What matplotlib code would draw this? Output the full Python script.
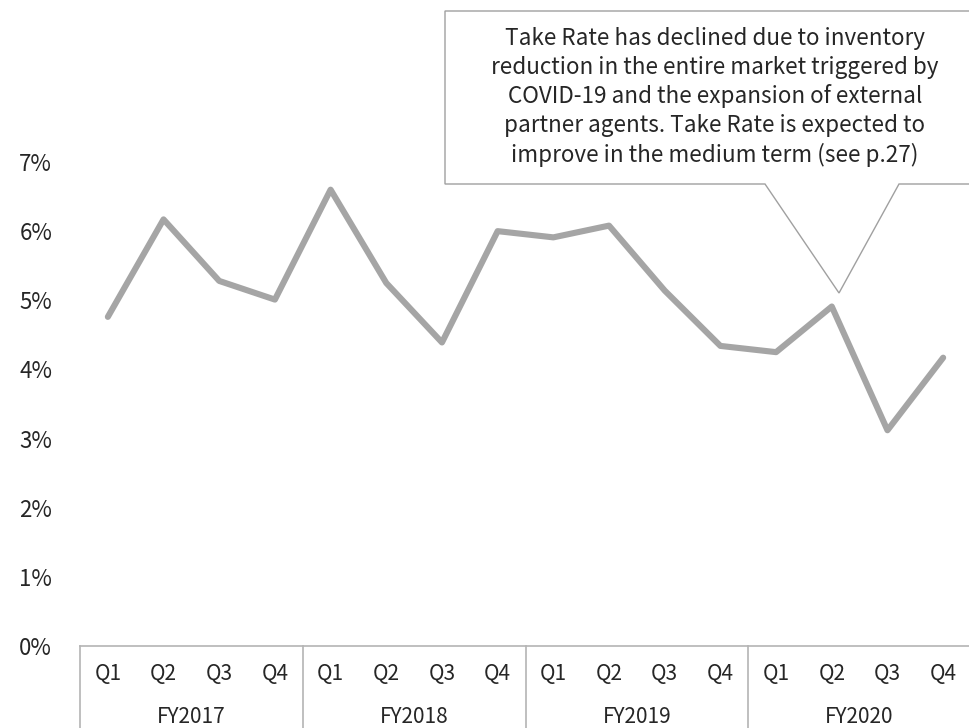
import matplotlib.pyplot as plt
from matplotlib.patches import Polygon

plt.rcParams['font.family'] = ['Noto Sans CJK JP', 'DejaVu Sans']

# data
years = ['FY2017', 'FY2018', 'FY2019', 'FY2020']
quarters = ['Q1', 'Q2', 'Q3', 'Q4']
take_rate = [4.76, 6.17, 5.28, 5.01,
             6.60, 5.25, 4.39, 6.00,
             5.91, 6.08, 5.14, 4.34,
             4.25, 4.91, 3.12, 4.17]
note = ("Take Rate has declined due to inventory\n"
        "reduction in the entire market triggered by\n"
        "COVID-19 and the expansion of external\n"
        "partner agents. Take Rate is expected to\n"
        "improve in the medium term (see p.27)")

W, H = 969, 728
fig = plt.figure(figsize=(W / 100, H / 100), dpi=100)


def fx(px):
    return px / W


def fy(py):
    return 1 - py / H


# axes placed in pixel terms: left 80, right 971, y=0 at 646, y=7 at 162
ax = fig.add_axes([fx(80), fy(646), (971 - 80) / W, (646 - 162) / H])

n = len(take_rate)
x = list(range(n))
ax.plot(x, take_rate, color='#a5a5a5', lw=4.4,
        solid_capstyle='round', solid_joinstyle='round', clip_on=False)

ax.set_xlim(-0.5, n - 0.5)
ax.set_ylim(0, 7)
ax.set_yticks(range(8))
ax.set_yticklabels([f'{i}%' for i in range(8)], fontsize=16, color='#262626')
ax.tick_params(axis='y', length=0, pad=20)

for s in ['left', 'right', 'top']:
    ax.spines[s].set_visible(False)
ax.spines['bottom'].set_color('#b4b4b4')
ax.spines['bottom'].set_linewidth(1.2)

ax.set_xticks(x)
ax.set_xticklabels(quarters * len(years), fontsize=15, color='#262626')
ax.tick_params(axis='x', length=0, pad=12)

# group dividers and year labels
tr = ax.get_xaxis_transform()
for g in range(len(years) + 1):
    ax.plot([g * 4 - 0.5, g * 4 - 0.5], [0, -0.3], transform=tr,
            color='#b4b4b4', lw=1.2, clip_on=False)
for g, yr in enumerate(years):
    ax.text(g * 4 + 1.5, -71 / 484, yr, transform=tr, ha='center', va='center',
            fontsize=15, color='#262626')

# callout box
verts = [(445, 11), (980, 11), (980, 184), (899, 184), (839, 293),
         (765, 184), (445, 184)]
poly = Polygon([(fx(a), fy(b)) for a, b in verts], closed=True,
               transform=fig.transFigure, facecolor='white',
               edgecolor='#a0a0a0', lw=1.0, clip_on=False, zorder=5)
fig.add_artist(poly)
fig.text(fx(715), fy(97), note, ha='center', va='center', fontsize=16.2,
         color='#262626', linespacing=1.3, zorder=6)

fig.savefig('out.png', dpi=100)
